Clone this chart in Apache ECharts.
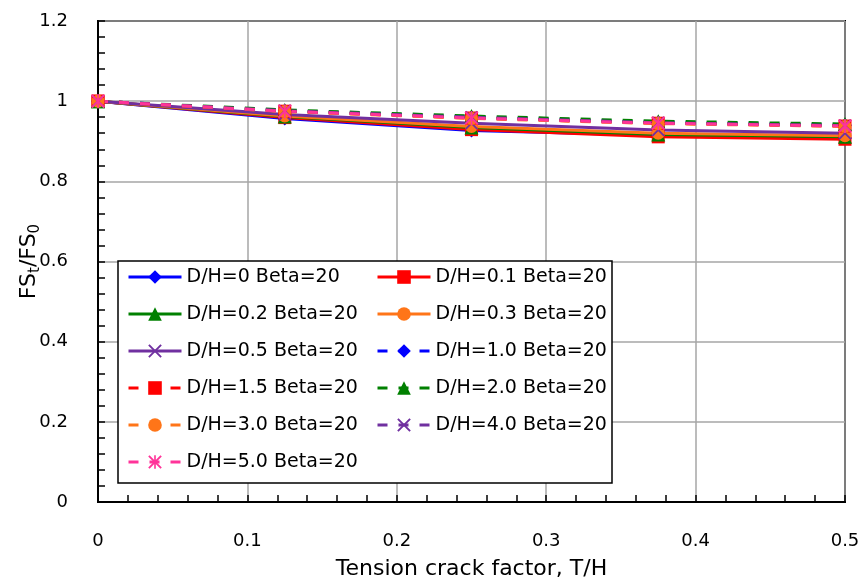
<!DOCTYPE html>
<html>
<head>
<meta charset="utf-8">
<script src="https://cdn.jsdelivr.net/npm/echarts@6/dist/echarts.min.js"></script>
<style>html,body{margin:0;padding:0;background:#fff;}#chart{width:861px;height:586px;}</style>
</head>
<body>
<div id="chart"></div>
<script>
const xValues = [0, 0.125, 0.25, 0.375, 0.5];
const xTicks = [0, 0.1, 0.2, 0.3, 0.4, 0.5];
const yTicks = [0, 0.2, 0.4, 0.6, 0.8, 1, 1.2];

const names = [
  'D/H=0 Beta=20', 'D/H=0.1 Beta=20', 'D/H=0.2 Beta=20', 'D/H=0.3 Beta=20',
  'D/H=0.5 Beta=20', 'D/H=1.0 Beta=20', 'D/H=1.5 Beta=20', 'D/H=2.0 Beta=20',
  'D/H=3.0 Beta=20', 'D/H=4.0 Beta=20', 'D/H=5.0 Beta=20'
];
const dh0  = [1, 0.957, 0.927, 0.915, 0.908];
const dh01 = [1, 0.959, 0.929, 0.911, 0.905];
const dh02 = [1, 0.962, 0.934, 0.917, 0.911];
const dh03 = [1, 0.963, 0.937, 0.920, 0.914];
const dh05 = [1, 0.967, 0.945, 0.928, 0.920];
const dh10 = [1, 0.976, 0.960, 0.947, 0.940];
const dh15 = [1, 0.975, 0.958, 0.945, 0.938];
const dh20 = [1, 0.978, 0.963, 0.950, 0.943];
const dh30 = [1, 0.974, 0.957, 0.944, 0.937];
const dh40 = [1, 0.976, 0.960, 0.946, 0.939];
const dh50 = [1, 0.975, 0.958, 0.945, 0.938];
const allData = [dh0, dh01, dh02, dh03, dh05, dh10, dh15, dh20, dh30, dh40, dh50];

const X_PATH = 'path://M0,1L1,0L5,4L9,0L10,1L6,5L10,9L9,10L5,6L1,10L0,9L4,5Z';
const STAR_PATH = 'path://M0,1L1,0L5,4L9,0L10,1L6,5L10,9L9,10L5,6L1,10L0,9L4,5Z M4.4,0L5.6,0L5.6,10L4.4,10Z';
const colors  = ['#0000FF', '#FF0000', '#008000', '#FF7518', '#7030A0', '#0000FF', '#FF0000', '#008000', '#FF7518', '#7030A0', '#FF3399'];
const symbols = ['diamond', 'rect', 'triangle', 'circle', X_PATH, 'diamond', 'rect', 'triangle', 'circle', X_PATH, STAR_PATH];
const sizes   = [14, 13, 14, 13, 13, 14, 13, 14, 13, 13, 14];
const dashed  = [false, false, false, false, false, true, true, true, true, true, true];

const FONT = 'DejaVu Sans';

const series = names.map((n, i) => ({
  name: n,
  type: 'line',
  data: xValues.map((x, j) => [x, allData[i][j]]),
  symbol: symbols[i],
  symbolSize: sizes[i],
  showAllSymbol: true,
  itemStyle: { color: colors[i] },
  lineStyle: { color: colors[i], width: 3, type: dashed[i] ? [10, 11] : 'solid' },
  emphasis: { disabled: true },
  animation: false,
  z: dashed[i] ? 3 : 2
}));

const leftNames = [names[0], names[2], names[4], names[6], names[8], names[10]];
const rightNames = [names[1], names[3], names[5], names[7], names[9]];

const legendCommon = {
  orient: 'vertical',
  padding: 0,
  itemWidth: 53,
  itemHeight: 17,
  itemGap: 17,
  lineStyle: { width: 3 },
  textStyle: { fontFamily: FONT, fontSize: 19, color: '#000', lineHeight: 20 },
  z: 10
};

const chart = echarts.init(document.getElementById('chart'), null, { renderer: 'canvas' });
chart.setOption({
  animation: false,
  backgroundColor: '#fff',
  grid: { left: 98, right: 16, top: 21, bottom: 84, outerBoundsMode: 'none', containLabel: false,
    show: true, borderColor: '#000', borderWidth: 2, backgroundColor: 'transparent' },
  xAxis: {
    type: 'value', min: xTicks[0], max: xTicks[xTicks.length - 1], interval: 0.1,
    name: 'Tension crack factor, T/H', nameLocation: 'middle', nameGap: 56,
    nameTextStyle: { fontFamily: FONT, fontSize: 22, color: '#000' },
    axisLine: { lineStyle: { color: '#000', width: 2 } },
    axisTick: { inside: true, length: 7, lineStyle: { color: '#000', width: 1.5 } },
    minorTick: { show: true, splitNumber: 5, length: 7, lineStyle: { color: '#000', width: 1.5 } },
    splitLine: { show: true, lineStyle: { color: '#a6a6a6', width: 1.5 } },
    axisLabel: { margin: 30, fontFamily: FONT, fontSize: 18, color: '#000', formatter: v => String(+v.toFixed(1)) }
  },
  yAxis: {
    type: 'value', min: yTicks[0], max: yTicks[yTicks.length - 1], interval: 0.2,
    name: 'FS{sub|t}/FS{sub|0}', nameLocation: 'middle', nameGap: 55, nameRotate: 90,
    nameMoveOverlap: false,
    nameTextStyle: { fontFamily: FONT, fontSize: 22, color: '#000',
      rich: { sub: { fontFamily: FONT, fontSize: 15, color: '#000', padding: [13, 0, 0, 0] } } },
    axisLine: { lineStyle: { color: '#000', width: 2 } },
    axisTick: { inside: true, length: 7, lineStyle: { color: '#000', width: 1.5 } },
    minorTick: { show: true, splitNumber: 5, length: 7, lineStyle: { color: '#000', width: 1.5 } },
    splitLine: { show: true, lineStyle: { color: '#a6a6a6', width: 1.5 } },
    axisLabel: { margin: 30, fontFamily: FONT, fontSize: 18, color: '#000', formatter: v => String(+v.toFixed(1)) }
  },
  legend: [
    Object.assign({ left: 127, top: 267, data: leftNames }, legendCommon),
    Object.assign({ left: 376, top: 267, data: rightNames }, legendCommon)
  ],
  graphic: [{
    type: 'rect', z: 5, silent: true,
    shape: { x: 118, y: 261, width: 494, height: 222 },
    style: { fill: '#fff', stroke: '#000', lineWidth: 1.5 }
  }],
  series: series
});
</script>
</body>
</html>
